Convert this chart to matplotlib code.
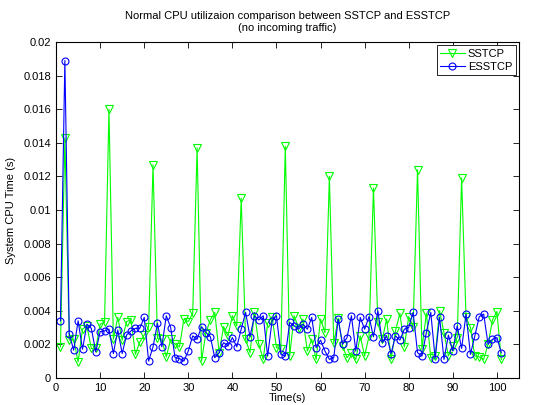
import matplotlib
matplotlib.use('Agg')
import matplotlib.pyplot as plt
from matplotlib.ticker import FuncFormatter, MultipleLocator

plt.rcParams['font.family'] = ['Liberation Sans', 'DejaVu Sans']

# time in seconds
time_s = list(range(1, 102))

# system cpu time, in units of 1e-3 s
sstcp_ms = [1.85, 14.3, 2.25, 2.3, 0.95, 2.9, 3.1, 1.75, 1.75, 3.2,
            3.3, 16.0, 2.3, 3.6, 2.25, 3.35, 3.45, 1.4, 2.15, 2.55,
            3.05, 12.7, 2.35, 2.3, 1.25, 2.3, 2.0, 1.85, 3.5, 3.35,
            3.85, 13.7, 1.0, 2.7, 3.45, 3.9, 1.5, 3.05, 2.5, 3.7,
            3.1, 10.7, 2.3, 1.5, 3.9, 2.0, 1.1, 3.25, 3.65, 1.8,
            1.7, 13.8, 1.3, 3.7, 3.0, 3.5, 1.6, 2.3, 1.1, 3.5,
            2.7, 12.0, 2.05, 3.55, 1.9, 1.2, 1.5, 1.1, 2.5, 1.3,
            2.5, 11.3, 3.3, 2.3, 3.5, 1.1, 2.8, 3.85, 1.85, 3.65,
            3.05, 12.4, 1.7, 3.85, 1.2, 1.3, 4.0, 2.7, 1.3, 1.9,
            2.4, 11.9, 3.6, 3.0, 1.3, 1.25, 1.1, 2.0, 3.45, 3.95,
            1.1]
esstcp_ms = [3.4, 18.9, 2.6, 1.65, 3.4, 1.7, 3.2, 2.95, 1.55, 2.75,
             2.8, 2.9, 1.45, 2.85, 1.45, 2.55, 2.8, 2.95, 2.95, 3.6,
             1.0, 1.85, 3.25, 1.85, 3.7, 3.0, 1.2, 1.15, 1.0, 1.6,
             2.5, 2.3, 3.05, 2.7, 2.45, 1.2, 1.5, 2.1, 1.9, 2.4,
             1.85, 2.9, 3.9, 2.45, 3.7, 3.45, 3.7, 1.3, 3.4, 3.7,
             1.4, 1.3, 3.3, 3.1, 2.9, 3.2, 2.9, 3.6, 1.8, 2.25,
             1.6, 1.1, 1.2, 3.5, 2.0, 2.4, 3.7, 1.6, 3.6, 2.9,
             3.65, 2.45, 4.0, 2.1, 2.5, 1.45, 2.5, 2.25, 2.9, 3.0,
             3.9, 1.5, 1.3, 2.7, 3.9, 1.15, 3.6, 1.1, 2.55, 1.6,
             3.1, 1.75, 3.8, 1.4, 2.5, 3.65, 3.8, 2.0, 2.3, 2.4,
             1.5]

sstcp = [v / 1000 for v in sstcp_ms]
esstcp = [v / 1000 for v in esstcp_ms]

fig = plt.figure(figsize=(5.55, 4.05), dpi=100)
ax = fig.add_axes([0.101, 0.067, 0.834, 0.829])

ax.plot(time_s, sstcp, color=(0, 1, 0), marker='v', markersize=5.5,
        markerfacecolor='none', markeredgewidth=0.8, linewidth=0.8, label='SSTCP')
ax.plot(time_s, esstcp, color=(0, 0, 1), marker='o', markersize=5,
        markerfacecolor='none', markeredgewidth=0.8, linewidth=0.8, label='ESSTCP')

ax.set_xlim(0, 105)
ax.set_ylim(0, 0.02)
ax.xaxis.set_major_locator(MultipleLocator(10))
ax.yaxis.set_major_locator(MultipleLocator(0.002))
ax.yaxis.set_major_formatter(FuncFormatter(lambda v, p: '%g' % round(v, 6)))
ax.tick_params(direction='in', top=True, right=True, labelsize=8, length=4, width=0.6)
for s in ax.spines.values():
    s.set_linewidth(0.8)

ax.set_xlabel('Time(s)', fontsize=8, labelpad=0)
ax.set_ylabel('System CPU Time (s)', fontsize=8, labelpad=5)
ax.set_title('Normal CPU utilizaion comparison between SSTCP and ESSTCP\n(no incoming traffic)',
             fontsize=8, pad=8)

leg = ax.legend(loc='upper right', fontsize=8, fancybox=False, framealpha=1,
                edgecolor='black', handlelength=2.2, borderaxespad=0.3,
                borderpad=0.3, labelspacing=0.3, handletextpad=0.3)
leg.get_frame().set_linewidth(0.6)

fig.savefig('out.png', dpi=100)
